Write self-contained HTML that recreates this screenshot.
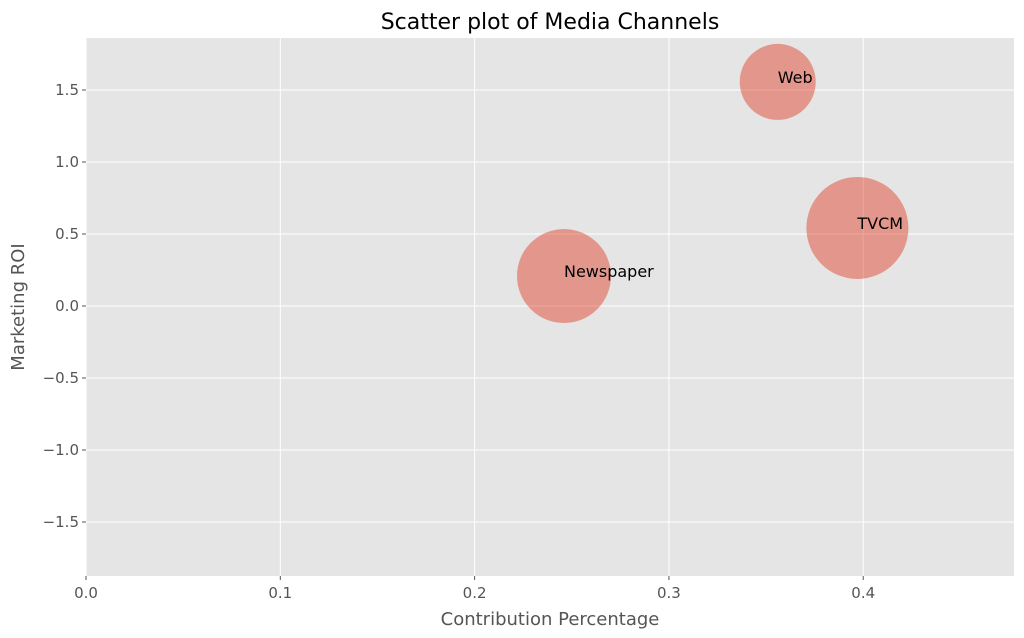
<!DOCTYPE html>
<html><head><meta charset="utf-8"><style>
html,body{margin:0;padding:0;background:#fff;}
svg{display:block;font-family:"DejaVu Sans","Liberation Sans",sans-serif;}
</style></head><body>
<svg id="chart" width="1024" height="638"></svg>
<script>
const channels = ["Web", "TVCM", "Newspaper"];
const contribution = [0.356, 0.397, 0.246];
const roi = [1.556, 0.542, 0.208];
const bubbleSize = [1444, 2601, 2209];
const xTicks = [0.0, 0.1, 0.2, 0.3, 0.4];
const xTickLabels = ["0.0", "0.1", "0.2", "0.3", "0.4"];
const yTicks = [1.5, 1.0, 0.5, 0.0, -0.5, -1.0, -1.5];
const yTickLabels = ["1.5", "1.0", "0.5", "0.0", "\u22120.5", "\u22121.0", "\u22121.5"];

const L=86,R=1014,T=38,B=576;
const xMin=0,xMax=0.4776,yMin=-1.875,yMax=1.861;
const xs=v=>L+(v-xMin)/(xMax-xMin)*(R-L);
const ys=v=>B-(v-yMin)/(yMax-yMin)*(B-T);
const NS="http://www.w3.org/2000/svg";
const svg=document.getElementById('chart');
function mk(tag,attrs,parent){const e=document.createElementNS(NS,tag);for(const k in attrs)e.setAttribute(k,attrs[k]);(parent||svg).appendChild(e);return e;}

const bg=mk('rect',{x:L,y:T,width:R-L,height:B-T,fill:'#E5E5E5'});



xTicks.forEach((t,i)=>{
  const x=xs(t);
  const g=mk('line',{x1:x,x2:x,y1:T,y2:B,stroke:'#fff','stroke-width':1});
  
  
  const tk=mk('line',{x1:x,x2:x,y1:B,y2:B+4,stroke:'#555'});
  
  
  const tx=mk('text',{x:x,y:B+22,'text-anchor':'middle','font-size':15,fill:'#555'});
  tx.textContent=xTickLabels[i];
  
  
});
yTicks.forEach((t,i)=>{
  const y=ys(t);
  const g=mk('line',{x1:L,x2:R,y1:y,y2:y,stroke:'#fff','stroke-width':1});
  
  
  const tk=mk('line',{x1:L-4,x2:L,y1:y,y2:y,stroke:'#555'});
  
  
  const tx=mk('text',{x:L-7,y:y+5,'text-anchor':'end','font-size':15,fill:'#555'});
  tx.textContent=yTickLabels[i];
  
  
});

channels.forEach((c,i)=>{
  const cx=xs(contribution[i]),cy=ys(roi[i]),r=Math.sqrt(bubbleSize[i]);
  const b=mk('circle',{cx:cx,cy:cy,r:r,fill:'#E24A33','fill-opacity':0.5});
  
  
});
channels.forEach((c,i)=>{
  const cx=xs(contribution[i]),cy=ys(roi[i]);
  const t=mk('text',{x:cx,y:cy+1,'font-size':16,fill:'#000'});
  t.textContent=c;
  
  
});

const title=mk('text',{x:(L+R)/2,y:29,'text-anchor':'middle','font-size':22,fill:'#000'});
title.textContent='Scatter plot of Media Channels';


const xl=mk('text',{x:(L+R)/2,y:625,'text-anchor':'middle','font-size':18,fill:'#555'});
xl.textContent='Contribution Percentage';


const yl=mk('text',{x:24,y:(T+B)/2,'text-anchor':'middle','font-size':18,fill:'#555',transform:'rotate(-90 24 '+((T+B)/2)+')'});
yl.textContent='Marketing ROI';


</script>
</body></html>
